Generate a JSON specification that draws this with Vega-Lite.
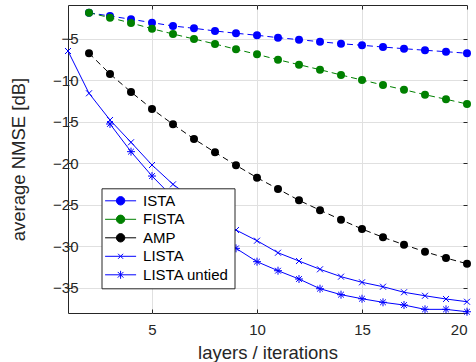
{
  "$schema": "https://vega.github.io/schema/vega-lite/v6.json",
  "width": 399,
  "height": 308,
  "autosize": {"type": "none"},
  "padding": {"left": 68, "top": 5, "right": 9, "bottom": 49},
  "config": {
    "font": "Liberation Sans",
    "view": {"stroke": "#262626", "strokeWidth": 1},
    "axis": {
      "domain": false,
      "tickColor": "#262626",
      "tickSize": -4,
      "labelColor": "#262626",
      "labelFont": "Liberation Sans",
      "labelFontSize": 15,
      "titleFont": "Liberation Sans",
      "titleFontSize": 18.5,
      "titleFontWeight": "normal",
      "titleColor": "#262626",
      "gridColor": "#e0e0e0",
      "gridWidth": 1
    }
  },
  "datasets": {
    "d": [
      {"x": 2, "series": "ISTA", "v": -1.83},
      {"x": 3, "series": "ISTA", "v": -2.23},
      {"x": 4, "series": "ISTA", "v": -2.62},
      {"x": 5, "series": "ISTA", "v": -3.03},
      {"x": 6, "series": "ISTA", "v": -3.43},
      {"x": 7, "series": "ISTA", "v": -3.71},
      {"x": 8, "series": "ISTA", "v": -4.03},
      {"x": 9, "series": "ISTA", "v": -4.31},
      {"x": 10, "series": "ISTA", "v": -4.55},
      {"x": 11, "series": "ISTA", "v": -4.84},
      {"x": 12, "series": "ISTA", "v": -5.08},
      {"x": 13, "series": "ISTA", "v": -5.33},
      {"x": 14, "series": "ISTA", "v": -5.57},
      {"x": 15, "series": "ISTA", "v": -5.76},
      {"x": 16, "series": "ISTA", "v": -5.97},
      {"x": 17, "series": "ISTA", "v": -6.17},
      {"x": 18, "series": "ISTA", "v": -6.36},
      {"x": 19, "series": "ISTA", "v": -6.53},
      {"x": 20, "series": "ISTA", "v": -6.72},
      {"x": 2, "series": "FISTA", "v": -1.83},
      {"x": 3, "series": "FISTA", "v": -2.43},
      {"x": 4, "series": "FISTA", "v": -3.07},
      {"x": 5, "series": "FISTA", "v": -3.76},
      {"x": 6, "series": "FISTA", "v": -4.40},
      {"x": 7, "series": "FISTA", "v": -5.00},
      {"x": 8, "series": "FISTA", "v": -5.60},
      {"x": 9, "series": "FISTA", "v": -6.24},
      {"x": 10, "series": "FISTA", "v": -6.85},
      {"x": 11, "series": "FISTA", "v": -7.50},
      {"x": 12, "series": "FISTA", "v": -8.10},
      {"x": 13, "series": "FISTA", "v": -8.70},
      {"x": 14, "series": "FISTA", "v": -9.34},
      {"x": 15, "series": "FISTA", "v": -9.95},
      {"x": 16, "series": "FISTA", "v": -10.55},
      {"x": 17, "series": "FISTA", "v": -11.12},
      {"x": 18, "series": "FISTA", "v": -11.72},
      {"x": 19, "series": "FISTA", "v": -12.27},
      {"x": 20, "series": "FISTA", "v": -12.84},
      {"x": 2, "series": "AMP", "v": -6.72},
      {"x": 3, "series": "AMP", "v": -9.22},
      {"x": 4, "series": "AMP", "v": -11.39},
      {"x": 5, "series": "AMP", "v": -13.44},
      {"x": 6, "series": "AMP", "v": -15.29},
      {"x": 7, "series": "AMP", "v": -17.06},
      {"x": 8, "series": "AMP", "v": -18.67},
      {"x": 9, "series": "AMP", "v": -20.23},
      {"x": 10, "series": "AMP", "v": -21.73},
      {"x": 11, "series": "AMP", "v": -23.09},
      {"x": 12, "series": "AMP", "v": -24.46},
      {"x": 13, "series": "AMP", "v": -25.65},
      {"x": 14, "series": "AMP", "v": -26.80},
      {"x": 15, "series": "AMP", "v": -27.92},
      {"x": 16, "series": "AMP", "v": -28.92},
      {"x": 17, "series": "AMP", "v": -29.81},
      {"x": 18, "series": "AMP", "v": -30.66},
      {"x": 19, "series": "AMP", "v": -31.42},
      {"x": 20, "series": "AMP", "v": -32.11},
      {"x": 1, "series": "LISTA", "v": -6.45},
      {"x": 2, "series": "LISTA", "v": -11.55},
      {"x": 3, "series": "LISTA", "v": -14.77},
      {"x": 4, "series": "LISTA", "v": -17.46},
      {"x": 5, "series": "LISTA", "v": -20.20},
      {"x": 6, "series": "LISTA", "v": -22.53},
      {"x": 7, "series": "LISTA", "v": -24.4},
      {"x": 8, "series": "LISTA", "v": -26.3},
      {"x": 9, "series": "LISTA", "v": -28.04},
      {"x": 10, "series": "LISTA", "v": -29.33},
      {"x": 11, "series": "LISTA", "v": -30.78},
      {"x": 12, "series": "LISTA", "v": -31.78},
      {"x": 13, "series": "LISTA", "v": -32.78},
      {"x": 14, "series": "LISTA", "v": -33.67},
      {"x": 15, "series": "LISTA", "v": -34.35},
      {"x": 16, "series": "LISTA", "v": -34.88},
      {"x": 17, "series": "LISTA", "v": -35.55},
      {"x": 18, "series": "LISTA", "v": -35.97},
      {"x": 19, "series": "LISTA", "v": -36.36},
      {"x": 20, "series": "LISTA", "v": -36.69},
      {"x": 3, "series": "LISTA untied", "v": -15.25},
      {"x": 4, "series": "LISTA untied", "v": -18.59},
      {"x": 5, "series": "LISTA untied", "v": -21.53},
      {"x": 6, "series": "LISTA untied", "v": -24.1},
      {"x": 7, "series": "LISTA untied", "v": -26.4},
      {"x": 8, "series": "LISTA untied", "v": -28.4},
      {"x": 9, "series": "LISTA untied", "v": -30.25},
      {"x": 10, "series": "LISTA untied", "v": -31.86},
      {"x": 11, "series": "LISTA untied", "v": -32.95},
      {"x": 12, "series": "LISTA untied", "v": -33.95},
      {"x": 13, "series": "LISTA untied", "v": -35.12},
      {"x": 14, "series": "LISTA untied", "v": -35.84},
      {"x": 15, "series": "LISTA untied", "v": -36.33},
      {"x": 16, "series": "LISTA untied", "v": -36.76},
      {"x": 17, "series": "LISTA untied", "v": -37.09},
      {"x": 18, "series": "LISTA untied", "v": -37.61},
      {"x": 19, "series": "LISTA untied", "v": -37.61},
      {"x": 20, "series": "LISTA untied", "v": -37.90}
    ]
  },
  "data": {"name": "d"},
  "resolve": {"axis": {"x": "independent", "y": "independent"}},
  "layer": [
    {
      "transform": [{"filter": {"field": "series", "oneOf": ["LISTA", "LISTA untied"]}}],
      "mark": {"type": "line", "strokeWidth": 1},
      "encoding": {
        "x": {
          "field": "x", "type": "quantitative",
          "scale": {"domain": [1, 20], "nice": false, "zero": false},
          "axis": {"values": [5, 10, 15, 20], "grid": true, "title": "layers / iterations", "labelPadding": 13, "titleBaseline": "middle", "titleY": 39}
        },
        "y": {
          "field": "v", "type": "quantitative",
          "scale": {"domain": [-38.05, -0.9], "nice": false, "zero": false},
          "axis": {"values": [-35, -30, -25, -20, -15, -10, -5], "grid": true, "title": "average NMSE [dB]", "labelPadding": -6, "titleBaseline": "middle", "titleX": -50}
        },
        "color": {
          "field": "series", "type": "nominal",
          "scale": {"domain": ["ISTA", "FISTA", "AMP", "LISTA", "LISTA untied"], "range": ["#0000ff", "#008000", "#000000", "#0000ff", "#0000ff"]},
          "legend": {
            "title": null,
            "orient": "none",
            "legendX": 33.5,
            "legendY": 183.3,
            "zindex": 1,
            "fillColor": "white",
            "strokeColor": "#262626",
            "padding": 5,
            "rowPadding": 2.5,
            "labelFont": "Liberation Sans",
            "labelFontSize": 15,
            "labelColor": "#000000",
            "labelOffset": 15,
            "symbolOffset": 6.6,
            "symbolSize": 100,
            "symbolStrokeWidth": 1,
            "symbolDash": [],
            "encode": {
              "symbols": {
                "update": {
                  "shape": {"signal": "datum.value === 'LISTA' ? 'M-3.1,0H3.1M-0.5,-0.5L0.5,0.5M-0.5,0.5L0.5,-0.5' : datum.value === 'LISTA untied' ? 'M-3.1,0H3.1M0,-0.8V0.8M-0.57,-0.57L0.57,0.57M-0.57,0.57L0.57,-0.57' : 'M-3.1,0H3.1M-0.84,0A0.84,0.84 0 1,1 0.84,0A0.84,0.84 0 1,1 -0.84,0Z'"},
                  "fill": {"scale": "color", "field": "value"},
                  "stroke": {"scale": "color", "field": "value"},
                  "strokeDash": {"value": []},
                  "opacity": {"value": 1},
                  "fillOpacity": {"value": 1},
                  "strokeOpacity": {"value": 1}
                }
              }
            }
          }
        }
      }
    },
    {
      "transform": [{"filter": {"field": "series", "oneOf": ["ISTA", "FISTA", "AMP"]}}],
      "mark": {"type": "line", "strokeWidth": 1, "strokeDash": [6, 4]},
      "encoding": {
        "x": {"field": "x", "type": "quantitative", "axis": null},
        "y": {"field": "v", "type": "quantitative", "axis": null},
        "color": {"field": "series", "type": "nominal"}
      }
    },
    {
      "transform": [{"filter": {"field": "series", "oneOf": ["ISTA", "FISTA", "AMP"]}}],
      "mark": {"type": "point", "filled": true, "size": 64, "opacity": 1, "shape": "circle"},
      "encoding": {
        "x": {"field": "x", "type": "quantitative", "axis": null},
        "y": {"field": "v", "type": "quantitative", "axis": null},
        "color": {"field": "series", "type": "nominal"}
      }
    },
    {
      "transform": [{"filter": {"field": "series", "equal": "LISTA"}}],
      "mark": {"type": "point", "filled": false, "size": 36, "opacity": 1, "strokeWidth": 1, "shape": "M-1,-1L1,1M-1,1L1,-1"},
      "encoding": {
        "x": {"field": "x", "type": "quantitative", "axis": null},
        "y": {"field": "v", "type": "quantitative", "axis": null},
        "color": {"field": "series", "type": "nominal"}
      }
    },
    {
      "transform": [{"filter": {"field": "series", "equal": "LISTA untied"}}],
      "mark": {"type": "point", "filled": false, "size": 64, "opacity": 1, "strokeWidth": 1, "shape": "M-1,0H1M0,-1V1M-0.72,-0.72L0.72,0.72M-0.72,0.72L0.72,-0.72"},
      "encoding": {
        "x": {"field": "x", "type": "quantitative", "axis": null},
        "y": {"field": "v", "type": "quantitative", "axis": null},
        "color": {"field": "series", "type": "nominal"}
      }
    },
    {
      "mark": {"type": "point", "opacity": 0},
      "encoding": {
        "x": {"field": "x", "type": "quantitative", "axis": {"orient": "top", "values": [5, 10, 15, 20], "labels": false, "grid": false, "title": null}},
        "y": {"field": "v", "type": "quantitative", "axis": {"orient": "right", "values": [-35, -30, -25, -20, -15, -10, -5], "labels": false, "grid": false, "title": null}}
      }
    }
  ]
}
